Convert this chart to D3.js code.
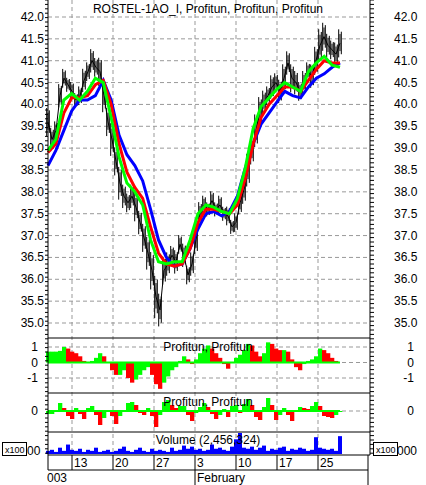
<!DOCTYPE html><html><head><meta charset="utf-8"><script src="https://cdn.jsdelivr.net/npm/d3@7"></script>
<style>body{margin:0;background:#fff}svg{font-family:Arial,"Liberation Sans",sans-serif}</style></head><body><svg id="c" width="426" height="485"></svg><script>
const price=[39.6,39.2,39.4,40.2,40.6,40.45,40.3,40.1,40.2,40.55,40.75,41.0,40.85,40.75,40.2,39.6,39.2,38.7,38.2,37.9,37.75,37.9,37.65,37.3,36.95,36.6,36.2,35.6,35.3,36.2,36.35,36.55,36.4,36.8,36.55,36.1,36.35,36.9,37.5,37.7,37.6,37.8,37.6,37.7,37.5,37.45,37.2,37.3,37.75,38.05,38.5,38.95,39.4,39.85,40.05,40.2,40.4,40.5,40.3,40.6,40.95,40.6,40.5,40.3,40.5,40.75,40.65,41.0,41.35,41.55,41.35,41.25,41.15,41.4];
const spread=[0.6,0.5,0.4,0.5,0.4,0.3,0.4,0.3,0.4,0.5,0.4,0.5,0.4,0.6,0.7,0.6,0.7,0.6,0.7,0.5,0.4,0.5,0.6,0.5,0.6,0.7,0.8,0.9,0.7,0.6,0.5,0.4,0.5,0.4,0.5,0.4,0.5,0.6,0.5,0.4,0.3,0.4,0.3,0.4,0.3,0.4,0.3,0.4,0.5,0.6,0.7,0.6,0.7,0.6,0.5,0.4,0.5,0.4,0.5,0.6,0.5,0.6,0.5,0.4,0.5,0.4,0.5,0.6,0.7,0.6,0.5,0.4,0.5,0.6];
const green=[38.95,39.2,40.1,40.25,40.1,40.3,40.6,40.5,39.7,38.8,38.2,38.0,37.7,36.9,36.4,36.35,36.4,36.4,36.9,37.5,37.7,37.65,37.55,37.5,37.85,38.55,39.45,39.95,40.15,40.35,40.5,40.4,40.3,40.75,40.95,41.1,40.9,40.85];
const red=[38.9,39.1,39.8,40.15,40.15,40.2,40.45,40.55,40.0,39.1,38.45,38.1,37.85,37.2,36.6,36.35,36.3,36.35,36.7,37.3,37.6,37.6,37.55,37.5,37.7,38.3,39.1,39.7,40.0,40.2,40.4,40.4,40.3,40.55,40.8,41.0,40.95,40.95];
const blue=[38.6,38.95,39.4,39.85,40.1,40.1,40.2,40.55,40.1,39.3,38.85,38.6,38.25,37.6,36.9,36.5,36.3,36.35,36.7,37.15,37.5,37.55,37.45,37.55,37.9,38.55,39.1,39.55,39.8,40.05,40.3,40.2,40.15,40.4,40.6,40.7,40.85,40.95];
const osc1=[0.7,0.7,0.7,0.75,1.0,0.9,0.7,0.6,0.4,0.1,0,0.1,0.3,0.6,0.4,0,-0.5,-0.8,-0.8,-0.5,-1.0,-1.3,-1.1,-0.8,-0.5,-0.3,-0.8,-1.4,-1.7,-1.3,-0.9,-0.5,-0.3,0.1,0.4,0.2,-0.1,0.2,0.6,0.9,1.1,0.9,0.6,0.3,-0.1,-0.4,0,0.3,0.5,0.8,1.2,1.1,0.7,0.4,0.6,1.3,1.2,0.9,0.8,0.8,0.7,0.2,-0.3,-0.5,-0.1,0.1,0.2,0.4,0.9,0.8,0.6,0.3,0.1,0];
const osc2=[-0.3,-0.3,0,0.8,0.3,-0.5,-0.8,0.3,-0.3,-0.8,0.3,0.5,-0.4,-1.4,-0.7,0.1,-0.5,-1.3,-0.5,-0.1,0.8,0.9,0.6,-0.2,-0.4,0.3,-0.5,-1.6,-0.4,0.9,1.1,0.6,0.3,0.5,0.5,-0.4,-1.0,-0.2,0.4,0.8,0.4,-0.3,-0.8,-0.4,0.2,-0.6,0.5,0.6,-0.2,0.7,1.2,0.6,-0.6,-0.9,0.4,1.3,0.6,-0.9,-0.4,0.3,-0.4,-1.0,0,0.4,0.3,0.2,0.5,0.9,0.5,-0.5,-0.6,-0.7,-0.4,-0.1];
const volume=[3,4,2,6,3,9,4,3,5,2,4,3,6,2,3,4,2,3,5,7,3,2,4,6,3,2,5,3,4,3,2,6,3,4,8,5,7,4,5,3,4,9,5,6,4,3,7,14,20,6,5,7,4,6,8,3,5,4,6,7,3,5,4,6,5,3,4,16,6,5,4,5,3,17];
const dayTicks=[{i:6,l:"13"},{i:16.25,l:"20"},{i:26.5,l:"27"},{i:36.75,l:"3"},{i:47,l:"10"},{i:57.25,l:"17"},{i:67.5,l:"25"}];
const priceTicks=[35.0,35.5,36.0,36.5,37.0,37.5,38.0,38.5,39.0,39.5,40.0,40.5,41.0,41.5,42.0];

const svg=d3.select("#c");
const L=48,R=370;
const x=d3.scaleLinear().domain([0,73]).range([48,340]);
const xm=d3.scaleLinear().domain([0,37]).range([48,340]);
const y=d3.scaleLinear().domain([35,42]).range([323,17]);
const y1=d3.scaleLinear().domain([-1,1]).range([378,347]);
const y2=d3.scaleLinear().domain([-1.8,1.8]).range([429,393]);
const yv=d3.scaleLinear().domain([0,20]).range([454,433]);
const panels=[[0,338],[338,393],[393,432],[432,455]];
const grid="#999";
dayTicks.forEach(d=>{svg.append("line").attr("x1",x(d.i)).attr("x2",x(d.i)).attr("y1",0).attr("y2",455).attr("stroke",grid).attr("stroke-dasharray","4,3");});
priceTicks.forEach(v=>svg.append("line").attr("x1",L).attr("x2",R).attr("y1",y(v)).attr("y2",y(v)).attr("stroke",grid).attr("stroke-dasharray","4,3"));
[-1,0,1].forEach(v=>svg.append("line").attr("x1",L).attr("x2",R).attr("y1",y1(v)).attr("y2",y1(v)).attr("stroke",grid).attr("stroke-dasharray","4,3"));
svg.append("line").attr("x1",L).attr("x2",R).attr("y1",y2(0)).attr("y2",y2(0)).attr("stroke",grid).attr("stroke-dasharray","4,3");
// price
const ln=d3.line().x((d,i)=>x(i)).y(d=>y(d));
price.forEach((p,i)=>{const s=spread[i];[[-1.3,-0.1],[0,0.5],[1.3,0.2]].forEach(([dx,off])=>svg.append("line").attr("x1",x(i)+dx).attr("x2",x(i)+dx).attr("y1",y(p-s/2+off*s*0.4)).attr("y2",y(p+s/2-off*s*0.3)).attr("stroke","#000"));});
svg.append("path").attr("d",ln(price)).attr("fill","none").attr("stroke","#000").attr("stroke-width",1);
const lm=d3.line().x((d,i)=>xm(i)).y(d=>y(d)).curve(d3.curveStep);
[[blue,"#0000ff"],[red,"#ff0000"],[green,"#00ff00"]].forEach(([a,c])=>svg.append("path").attr("d",d3.line().x((d,i)=>xm(i)).y(d=>y(d))(a)).attr("fill","none").attr("stroke",c).attr("stroke-width",3));
svg.append("text").attr("x",208).attr("y",13).attr("text-anchor","middle").attr("font-size",12).text("ROSTEL-1AO_I, Profitun, Profitun, Profitun");
function hist(arr,ys){const w=x(1)-x(0);arr.forEach((v,i)=>{const c=(i>0&&v<arr[i-1])?"#ff0000":"#00ff00";svg.append("rect").attr("x",x(i)-w/2).attr("width",w+0.3).attr("y",Math.min(ys(v),ys(0))).attr("height",Math.abs(ys(v)-ys(0))).attr("fill",c);});
svg.append("line").attr("x1",L).attr("x2",x(73)).attr("y1",ys(0)).attr("y2",ys(0)).attr("stroke","#00ff00").attr("stroke-width",2);}
hist(osc1,y1);hist(osc2,y2);
svg.append("text").attr("x",208).attr("y",351).attr("text-anchor","middle").attr("font-size",12).text("Profitun, Profitun");
svg.append("text").attr("x",208).attr("y",406).attr("text-anchor","middle").attr("font-size",12).text("Profitun, Profitun");
volume.forEach((v,i)=>svg.append("rect").attr("x",x(i)-2).attr("width",4).attr("y",yv(v)).attr("height",yv(0)-yv(v)).attr("fill","#0000ff"));
svg.append("text").attr("x",208).attr("y",444).attr("text-anchor","middle").attr("font-size",12).text("Volume (2,456,324)");
priceTicks.forEach(v=>{svg.append("text").attr("x",44).attr("y",y(v)+4).attr("text-anchor","end").attr("font-size",12).text(v.toFixed(1));
svg.append("text").attr("x",394).attr("y",y(v)+4).attr("font-size",12).text(v.toFixed(1));});
[-1,0,1].forEach(v=>{svg.append("text").attr("x",38).attr("y",y1(v)+4).attr("text-anchor","end").attr("font-size",12).text(v);svg.append("text").attr("x",414).attr("y",y1(v)+4).attr("text-anchor","end").attr("font-size",12).text(v);});
svg.append("text").attr("x",38).attr("y",y2(0)+4).attr("text-anchor","end").attr("font-size",12).text("0");
svg.append("text").attr("x",414).attr("y",y2(0)+4).attr("text-anchor","end").attr("font-size",12).text("0");
d3.range(0,455,4.4).forEach(t=>{svg.append("line").attr("x1",R).attr("x2",R+4).attr("y1",t).attr("y2",t).attr("stroke","#000");svg.append("line").attr("x1",L-3).attr("x2",L).attr("y1",t).attr("y2",t).attr("stroke","#000");});
panels.forEach(([a,b])=>{svg.append("line").attr("x1",L).attr("x2",R).attr("y1",b).attr("y2",b).attr("stroke","#000");});
svg.append("line").attr("x1",L).attr("x2",L).attr("y1",0).attr("y2",455).attr("stroke","#000");
svg.append("line").attr("x1",R).attr("x2",R).attr("y1",0).attr("y2",455).attr("stroke","#000");
[[2,"x100"],[373,"x100"]].forEach(([px,t])=>{svg.append("rect").attr("x",px+0.5).attr("y",442.5).attr("width",24).attr("height",13).attr("fill","#fff").attr("stroke","#000");svg.append("text").attr("x",px+3).attr("y",453).attr("font-size",9).text(t);});
svg.append("text").attr("x",27).attr("y",455).attr("font-size",12).text("00");
svg.append("text").attr("x",397).attr("y",455).attr("font-size",12).text("000");
svg.append("line").attr("x1",L).attr("x2",368).attr("y1",470).attr("y2",470).attr("stroke","#000");
svg.append("line").attr("x1",L).attr("x2",L).attr("y1",455).attr("y2",470).attr("stroke","#000");
svg.append("line").attr("x1",368).attr("x2",368).attr("y1",455).attr("y2",485).attr("stroke","#000");
dayTicks.forEach(d=>{svg.append("line").attr("x1",x(d.i)).attr("x2",x(d.i)).attr("y1",455).attr("y2",d.l==="3"?485:470).attr("stroke","#000");svg.append("text").attr("x",x(d.i)+2).attr("y",467).attr("font-size",12).text(d.l);});
svg.append("text").attr("x",47).attr("y",482).attr("font-size",12).text("003");
svg.append("text").attr("x",197).attr("y",482).attr("font-size",12).text("February");
</script></body></html>
